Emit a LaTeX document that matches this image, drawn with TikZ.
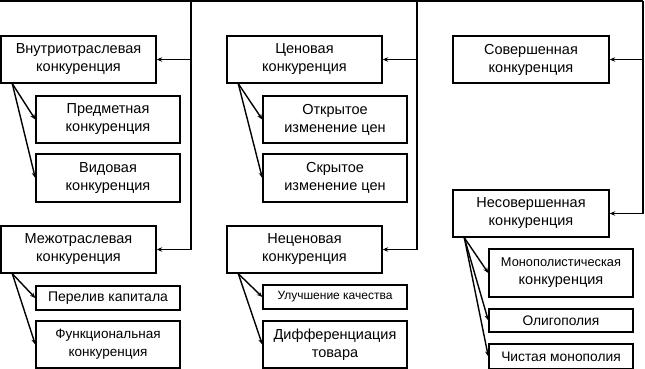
\documentclass[tikz,border=0pt]{standalone}
\usepackage{fontspec}
\setmainfont{Liberation Sans}
\usetikzlibrary{arrows.meta}
\begin{document}
\begin{tikzpicture}[x=1pt,y=-1pt,
  box/.style={draw,line width=1.4pt,inner sep=0pt,align=center,font=\fontsize{14.5}{18}\selectfont},
  pbox/.style={box,minimum width=155pt,minimum height=47pt},
  cbox/.style={box,minimum width=144pt,minimum height=47pt},
  sbox/.style={box,minimum width=144pt,minimum height=24pt},
  conn/.style={line width=1.4pt,-{Stealth[length=5.5pt,width=4.5pt]}},
  small/.style={font=\fontsize{13.5}{18}\selectfont}]
\useasboundingbox (0,0) rectangle (645,369);
% parent boxes
\node[pbox] (A) at (78.5,59.5) {Внутриотраслевая\\конкуренция};
\node[pbox] (B) at (78.5,249.5) {Межотраслевая\\конкуренция};
\node[pbox] (C) at (304.5,59.5) {Ценовая\\конкуренция};
\node[pbox] (D) at (304.5,249.5) {Неценовая\\конкуренция};
\node[pbox,minimum width=156pt] (E) at (531,59.5) {Совершенная\\конкуренция};
\node[pbox,minimum width=156pt] (F) at (531,213.5) {Несовершенная\\конкуренция};
% child boxes
\node[cbox] (A1) at (108,119.5) {Предметная\\конкуренция};
\node[cbox,minimum height=48pt] (A2) at (108,178) {Видовая\\конкуренция};
\node[sbox,font=\fontsize{14}{16}\selectfont] (B1) at (108,298) {Перелив капитала};
\node[cbox,small] (B2) at (108,344.5) {Функциональная\\конкуренция};
\node[cbox] (C1) at (335,119.5) {Открытое\\изменение цен};
\node[cbox,minimum height=48pt] (C2) at (335,178) {Скрытое\\изменение цен};
\node[sbox,font=\fontsize{12}{16}\selectfont] (D1) at (335,297) {Улучшение качества};
\node[cbox] (D2) at (335,344.5) {Дифференциация\\товара};
\node[cbox,minimum height=48pt] (F1) at (561,273) {{\fontsize{12.8}{16}\selectfont Монополистическая}\\конкуренция};
\node[sbox,minimum height=23pt,font=\fontsize{13.8}{16}\selectfont] (F2) at (561,320.5) {Олигополия};
\node[sbox,minimum height=25pt,font=\fontsize{13.8}{16}\selectfont] (F3) at (561,356.5) {Чистая монополия};
% top bus
\coordinate (t0) at (0,1);
\coordinate (t1) at (191,1);
\coordinate (t2) at (417,1);
\coordinate (t3) at (643,1);
\draw[line width=1.4pt] (t0) -- (t3);
\draw[conn] (t1) |- (B.east);
\draw[conn] (t1 |- A.east) -- (A.east);
\draw[conn] (t2) |- (D.east);
\draw[conn] (t2 |- C.east) -- (C.east);
\draw[conn] (t3) |- (F.east);
\draw[conn] (t3 |- E.east) -- (E.east);
% sub arrows
\coordinate (a0) at ([xshift=12pt]A.south west);
\coordinate (b0) at ([xshift=12pt]B.south west);
\coordinate (c0) at ([xshift=12pt]C.south west);
\coordinate (d0) at ([xshift=12pt]D.south west);
\coordinate (f0) at ([xshift=12pt]F.south west);
\draw[conn] (a0) -- (A1.west);
\draw[conn] (a0) -- (A2.west);
\draw[conn] (b0) -- (B1.west);
\draw[conn] (b0) -- (B2.west);
\draw[conn] (c0) -- (C1.west);
\draw[conn] (c0) -- (C2.west);
\draw[conn] (d0) -- (D1.west);
\draw[conn] (d0) -- (D2.west);
\draw[conn] (f0) -- (F1.west);
\draw[conn] (f0) -- (F2.west);
\draw[conn] (f0) -- (F3.west);
\end{tikzpicture}
\end{document}
